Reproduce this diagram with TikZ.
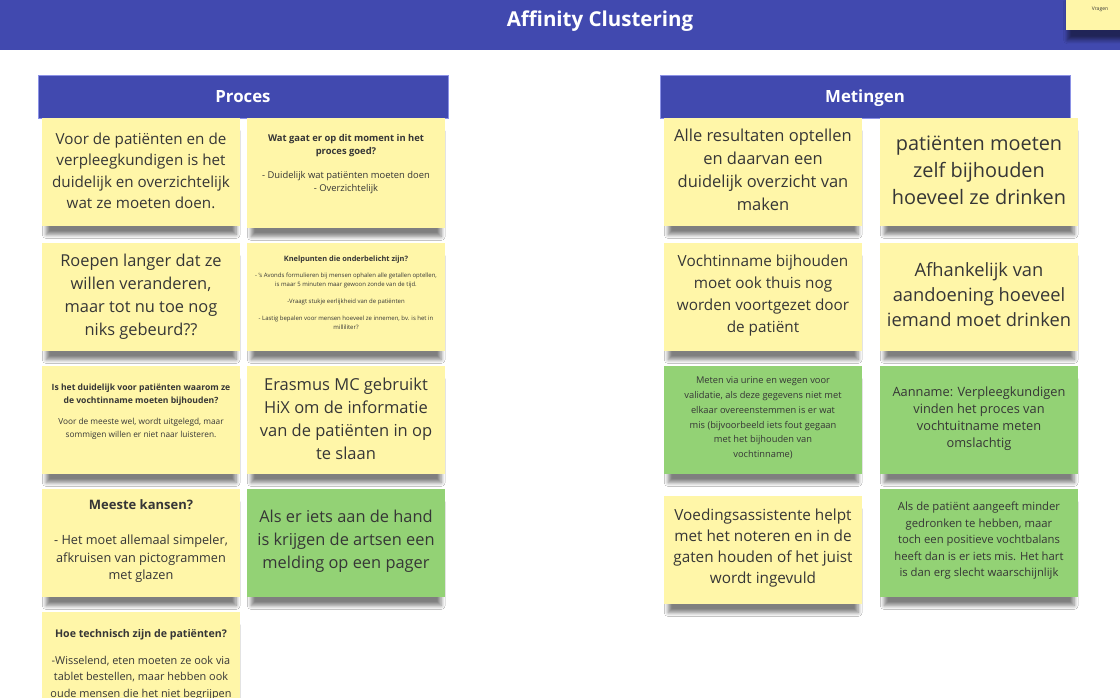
\documentclass[tikz,border=0pt]{standalone}
\usepackage{fontspec}
\setmainfont{Open Sans}
\usetikzlibrary{shadows.blur}

\definecolor{banner}{HTML}{4149AF}
\definecolor{hdrline}{HTML}{8C92E6}
\definecolor{noteyellow}{HTML}{FFF6A8}
\definecolor{notegreen}{HTML}{93D275}
\definecolor{ink}{HTML}{363636}

\begin{document}
\begin{tikzpicture}[x=1pt,y=-1pt,
  note/.style={anchor=north west, minimum width=198pt, minimum height=108pt, inner sep=0pt,
    blur shadow={shadow xshift=0pt, shadow yshift=-11pt, shadow scale=0.96,
      shadow opacity=50, shadow blur steps=8, shadow blur radius=4pt}},
  yellownote/.style={note, fill=noteyellow},
  greennote/.style={note, fill=notegreen},
  txt/.style={align=center, text=ink, inner sep=0pt},
  sz/.style 2 args={font=\fontsize{#1}{#2}\selectfont},
  header/.style={anchor=north west, minimum width=410pt, minimum height=43pt, fill=banner,
    draw=hdrline, line width=0.6pt, inner sep=0pt},
  headtext/.style={anchor=base, text=white, inner sep=0pt, font=\bfseries\fontsize{16.8}{20}\selectfont}
]
\useasboundingbox (0,0) rectangle (1120,698);
\clip (0,0) rectangle (1120,698);
\fill[white] (0,0) rectangle (1120,698);

% title bar
\node[fill=banner, anchor=north west, minimum width=1120pt, minimum height=50pt, inner sep=0pt] (bar) at (0,0) {};
\node[anchor=base, text=white, inner sep=0pt, font=\bfseries\fontsize{20.5}{24}\selectfont] (title) at (600,27) {Affinity Clustering};
\node[yellownote, minimum width=60pt, minimum height=40pt] (corner) at (1066,-10) {};
\node[txt, sz={5}{6}] (cornert) at (1100,9) {Vragen};

% column headers
\node[header] (hproc) at (38,75) {};
\node[headtext] (hproct) at (243,103) {Proces};
\node[header] (hmet) at (660,75) {};
\node[headtext] (hmett) at (865,103) {Metingen};

% ---------- Proces ----------
\node[yellownote] (p1) at (42,118) {};
\node[txt, sz={15.2}{21.5}] (p1t) at (141,171)
  {Voor de patiënten en de\\verpleegkundigen is het\\duidelijk en overzichtelijk\\wat ze moeten doen.};

\node[yellownote, minimum height=110pt] (p2) at (247,118) {};
\node[txt, sz={9.4}{13}] (p2t) at (346,164)
  {\textbf{Wat gaat er op dit moment in het}\\\textbf{proces goed?}\\[11pt]- Duidelijk wat patiënten moeten doen\\- Overzichtelijk};

\node[yellownote] (p3) at (42,243) {};
\node[txt, sz={16.4}{23}] (p3t) at (141,296.5)
  {Roepen langer dat ze\\willen veranderen,\\maar tot nu toe nog\\niks gebeurd??};

\node[yellownote] (p4) at (247,243) {};
\node[txt, sz={6}{9}] (p4t) at (346,292.5)
  {\textbf{\fontsize{7.4}{9}\selectfont Knelpunten die onderbelicht zijn?}\\[7pt]- 's Avonds formulieren bij mensen ophalen alle getallen optellen,\\is maar 5 minuten maar gewoon zonde van de tijd.\\[8pt]-Vraagt stukje eerlijkheid van de patiënten\\[8pt]- Lastig bepalen voor mensen hoeveel ze innemen, bv. is het in\\milliliter?};

\node[yellownote] (p5) at (42,366) {};
\node[txt, sz={8.3}{13}] (p5t) at (141,411.5)
  {\textbf{\fontsize{8.6}{13}\selectfont Is het duidelijk voor patiënten waarom ze}\\\textbf{\fontsize{8.6}{13}\selectfont de vochtinname moeten bijhouden?}\\[8pt]Voor de meeste wel, wordt uitgelegd, maar\\sommigen willen er niet naar luisteren.};

\node[yellownote] (p6) at (247,366) {};
\node[txt, sz={16.5}{23}] (p6t) at (346,418.5)
  {Erasmus MC gebruikt\\HiX om de informatie\\van de patiënten in op\\te slaan};

\node[yellownote] (p7) at (42,489) {};
\node[txt, sz={12.7}{17.5}] (p7t) at (141,541)
  {\textbf{\fontsize{13}{17.5}\selectfont Meeste kansen?}\\[18pt]- Het moet allemaal simpeler,\\afkruisen van pictogrammen\\met glazen};

\node[greennote] (p8) at (247,489) {};
\node[txt, sz={16.4}{23}] (p8t) at (346,541)
  {Als er iets aan de hand\\is krijgen de artsen een\\melding op een pager};

\node[yellownote] (p9) at (42,612) {};
\node[txt, sz={10.9}{16.5}] (p9t) at (141,665)
  {\textbf{\fontsize{10.6}{16.5}\selectfont Hoe technisch zijn de patiënten?}\\[10pt]-Wisselend, eten moeten ze ook via\\tablet bestellen, maar hebben ook\\oude mensen die het niet begrijpen};

% ---------- Metingen ----------
\node[yellownote] (m1) at (664,118) {};
\node[txt, sz={16.5}{23}] (m1t) at (763,170)
  {Alle resultaten optellen\\en daarvan een\\duidelijk overzicht van\\maken};

\node[yellownote] (m2) at (880,118) {};
\node[txt, sz={19.9}{27}] (m2t) at (979,170)
  {patiënten moeten\\zelf bijhouden\\hoeveel ze drinken};

\node[yellownote] (m3) at (664,243) {};
\node[txt, sz={15.3}{21.7}] (m3t) at (763,295.5)
  {Vochtinname bijhouden\\moet ook thuis nog\\worden voortgezet door\\de patiënt};

\node[yellownote] (m4) at (880,243) {};
\node[txt, sz={18.3}{25}] (m4t) at (979,295)
  {Afhankelijk van\\aandoening hoeveel\\iemand moet drinken};

\node[greennote] (m5) at (664,366) {};
\node[txt, sz={9.3}{14.8}] (m5t) at (763,418)
  {Meten via urine en wegen voor\\validatie, als deze gegevens niet met\\elkaar overeenstemmen is er wat\\mis (bijvoorbeeld iets fout gegaan\\met het bijhouden van\\vochtinname)};

\node[greennote] (m6) at (880,366) {};
\node[txt, sz={12.8}{17}] (m6t) at (979,418.5)
  {Aanname: Verpleegkundigen\\vinden het proces van\\vochtuitname meten\\omslachtig};

\node[yellownote] (m7) at (664,496) {};
\node[txt, sz={15.3}{21}] (m7t) at (763,548.5)
  {Voedingsassistente helpt\\met het noteren en in de\\gaten houden of het juist\\wordt ingevuld};

\node[greennote] (m8) at (880,489) {};
\node[txt, sz={11.3}{16.5}] (m8t) at (979,541)
  {Als de patiënt aangeeft minder\\gedronken te hebben, maar\\toch een positieve vochtbalans\\heeft dan is er iets mis. Het hart\\is dan erg slecht waarschijnlijk};
\end{tikzpicture}
\end{document}
